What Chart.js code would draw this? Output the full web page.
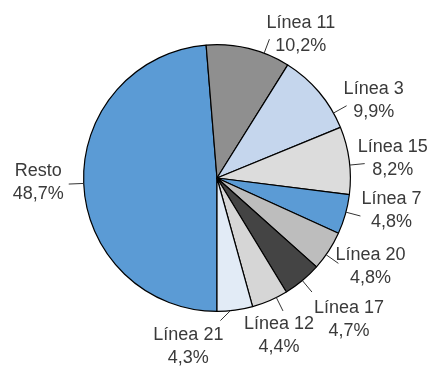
<!DOCTYPE html>
<html>
<head>
<meta charset="utf-8">
<script src="https://cdn.jsdelivr.net/npm/chart.js@4"></script>
<style>
  html, body { margin: 0; padding: 0; background: #fff; }
  #wrap { width: 430px; height: 366px; }
</style>
</head>
<body>
<div id="wrap"><canvas id="c"></canvas></div>
<script>
const lineas = ["Resto", "Línea 11", "Línea 3", "Línea 15", "Línea 7", "Línea 20", "Línea 17", "Línea 12", "Línea 21"];
const porcentajes = [48.7, 10.2, 9.9, 8.2, 4.8, 4.8, 4.7, 4.4, 4.3];
const colores = ["#5b9bd5", "#8f8f8f", "#c5d6ed", "#dcdcdc", "#5b9bd5", "#bdbdbd", "#444444", "#d6d6d6", "#e2ebf6"];

// where each label sits relative to the end of its leader line
const etiquetas = [
  { turn: 0, anchor: "right", dx: -3 },
  { turn: 7, anchor: "left" },
  { turn: 11, anchor: "left" },
  { turn: 2, anchor: "left", dx: -4 },
  { turn: -1, anchor: "left", dx: 4 },
  { turn: 2, anchor: "left", dy: 8 },
  { turn: 0, anchor: "topleft", dx: 2 },
  { turn: -3, anchor: "top" },
  { turn: 2, lean: 51, anchor: "topright" }
];

const fmt = (v) => v.toFixed(1).replace(".", ",") + "%";

const leaderLabels = {
  id: "leaderLabels",
  afterDatasetsDraw(chart) {
    const ctx = chart.ctx;
    const arcs = chart.getDatasetMeta(0).data;
    const lh = 23;
    ctx.save();
    ctx.font = "18px 'Liberation Sans', Arial, sans-serif";
    ctx.textAlign = "center";
    ctx.textBaseline = "middle";
    arcs.forEach((arc, i) => {
      const p = arc.getProps(["x", "y", "startAngle", "endAngle", "outerRadius"], true);
      const cfg = etiquetas[i];
      const a = (p.startAngle + p.endAngle) / 2 + (cfg.turn || 0) * Math.PI / 180;
      const sx = p.x + Math.cos(a) * p.outerRadius;
      const sy = p.y + Math.sin(a) * p.outerRadius;
      let ex, ey;
      if (cfg.lean) {
        const b = a + cfg.lean * Math.PI / 180;
        ex = sx + Math.cos(b) * 14;
        ey = sy + Math.sin(b) * 14;
      } else {
        ex = p.x + Math.cos(a) * (p.outerRadius + 15);
        ey = p.y + Math.sin(a) * (p.outerRadius + 15);
      }
      ctx.strokeStyle = "#333";
      ctx.lineWidth = 1;
      ctx.beginPath();
      ctx.moveTo(sx, sy);
      ctx.lineTo(ex, ey);
      ctx.stroke();

      const l1 = lineas[i], l2 = fmt(porcentajes[i]);
      const w = Math.max(ctx.measureText(l1).width, ctx.measureText(l2).width);
      const h = lh * 2;
      let cx, cy;
      if (cfg.anchor === "left") { cx = ex - 3 + w / 2; cy = ey - 5; }
      else if (cfg.anchor === "right") { cx = ex - 2 - w / 2; cy = ey - 2; }
      else if (cfg.anchor === "topleft") { cx = ex + w / 2; cy = ey + 4 + h / 2; }
      else if (cfg.anchor === "top") { cx = ex - 4; cy = ey + 2 + h / 2; }
      else { cx = ex + 3 - w / 2; cy = ey + 3 + h / 2; }
      cx += cfg.dx || 0;
      cy += cfg.dy || 0;
      ctx.fillStyle = "#3a3a3a";
      ctx.fillText(l1, cx, cy - lh / 2);
      ctx.fillText(l2, cx, cy + lh / 2);
    });
    ctx.restore();
  }
};

new Chart(document.getElementById("c").getContext("2d"), {
  type: "pie",
  data: {
    labels: lineas,
    datasets: [
      {
        data: porcentajes,
        backgroundColor: colores,
        borderColor: "#000",
        borderWidth: 1.2
      }
    ]
  },
  options: {
    responsive: true,
    maintainAspectRatio: false,
    animation: false,
    events: [],
    rotation: 180,
    layout: {
      padding: { top: 44, bottom: 54, left: 83, right: 79 }
    },
    plugins: {
      legend: { display: false },
      tooltip: { enabled: false }
    }
  },
  plugins: [leaderLabels]
});
</script>
</body>
</html>
